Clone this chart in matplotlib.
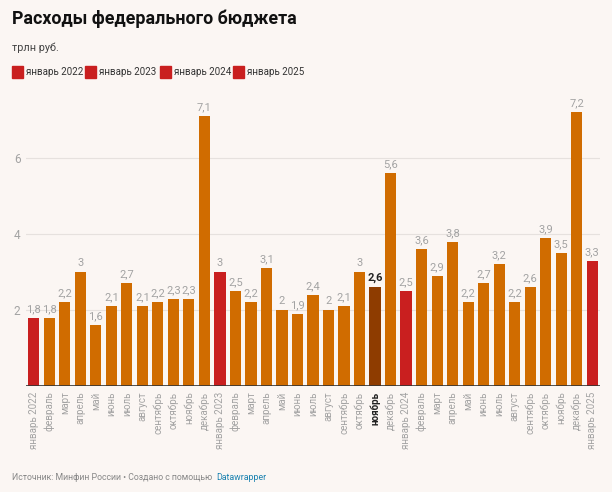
import matplotlib
matplotlib.use("Agg")
import matplotlib.pyplot as plt
from matplotlib.patches import Rectangle

plt.rcParams["font.family"] = ["Roboto", "DejaVu Sans"]

months = ["январь", "февраль", "март", "апрель", "май", "июнь", "июль",
          "август", "сентябрь", "октябрь", "ноябрь", "декабрь"]
labels = []
for year in [2022, 2023, 2024]:
    labels += [f"январь {year}"] + months[1:]
labels += ["январь 2025"]

values = [1.8, 1.8, 2.2, 3.0, 1.6, 2.1, 2.7, 2.1, 2.2, 2.3, 2.3, 7.1,
          3.0, 2.5, 2.2, 3.1, 2.0, 1.9, 2.4, 2.0, 2.1, 3.0, 2.6, 5.6,
          2.5, 3.6, 2.9, 3.8, 2.2, 2.7, 3.2, 2.2, 2.6, 3.9, 3.5, 7.2,
          3.3]
highlight = 22  # ноябрь 2023

bg = "#fbf6f3"
orange = "#d06c00"
red = "#c91f1f"
dark = "#8e3c00"
gray = "#a3a3a3"

colors = []
for i, lab in enumerate(labels):
    if lab.startswith("январь"):
        colors.append(red)
    elif i == highlight:
        colors.append(dark)
    else:
        colors.append(orange)

fig = plt.figure(figsize=(6.12, 4.92), dpi=100, facecolor=bg)
ax = fig.add_axes([26 / 612, 106 / 492, 574 / 612, 285 / 492])
ax.set_facecolor(bg)

x = list(range(len(values)))
ax.bar(x, values, width=0.72, color=colors, zorder=3)
ax.set_xlim(-0.5, len(values) - 0.5)
ax.set_ylim(0, 7.5)

for g in [2, 4, 6]:
    ax.axhline(g, color="#e6e1de", lw=0.8, zorder=1)
ax.axhline(0, color="#333333", lw=1.2, zorder=4)

ax.set_yticks([2, 4, 6])
ax.set_yticklabels(["2", "4", "6"], color=gray, fontsize=8.5)
ax.tick_params(axis="y", length=0, pad=4)
ax.set_xticks(x)
ax.set_xticklabels(labels, rotation=90, fontsize=7, color=gray)
ax.tick_params(axis="x", length=0, pad=4)
for i, t in enumerate(ax.get_xticklabels()):
    if i == highlight:
        t.set_color("#222222")
        t.set_fontweight("bold")
for s in ax.spines.values():
    s.set_visible(False)

for i, v in enumerate(values):
    txt = f"{v:g}".replace(".", ",")
    if i == highlight:
        ax.text(i, v + 0.1, txt, ha="center", va="bottom", fontsize=8,
                color="#222222", fontweight="bold", zorder=5)
    else:
        ax.text(i, v + 0.1, txt, ha="center", va="bottom", fontsize=8,
                color=gray, zorder=5)

# заголовок, подзаголовок, легенда
fig.text(12 / 612, 1 - 19 / 492, "Расходы федерального бюджета", fontsize=12.8,
         fontweight="bold", color="#111111", va="center")
fig.text(12 / 612, 1 - 48 / 492, "трлн руб.", fontsize=7.8, color="#444444",
         va="center")
leg_x = [12, 85, 160, 233]
leg_labels = ["январь 2022", "январь 2023", "январь 2024", "январь 2025"]
for lx, ll in zip(leg_x, leg_labels):
    fig.patches.append(Rectangle((lx / 612, 1 - 78 / 492), 11 / 612, 12 / 492,
                                 transform=fig.transFigure, color=red))
    fig.text((lx + 14) / 612, 1 - 72 / 492, ll, fontsize=7, color="#333333",
             va="center")

# подпись внизу
src = fig.text(12 / 612, 1 - 478 / 492,
               "Источник: Минфин России • Создано с помощью",
               fontsize=6.3, color="#888888", va="center")
ax.annotate("Datawrapper", xy=(1, 0.5), xycoords=src, xytext=(3, 0),
            textcoords="offset points", va="center", fontsize=6.3,
            color="#1a82b0", annotation_clip=False)

fig.savefig("out.png", dpi=100, facecolor=bg)
